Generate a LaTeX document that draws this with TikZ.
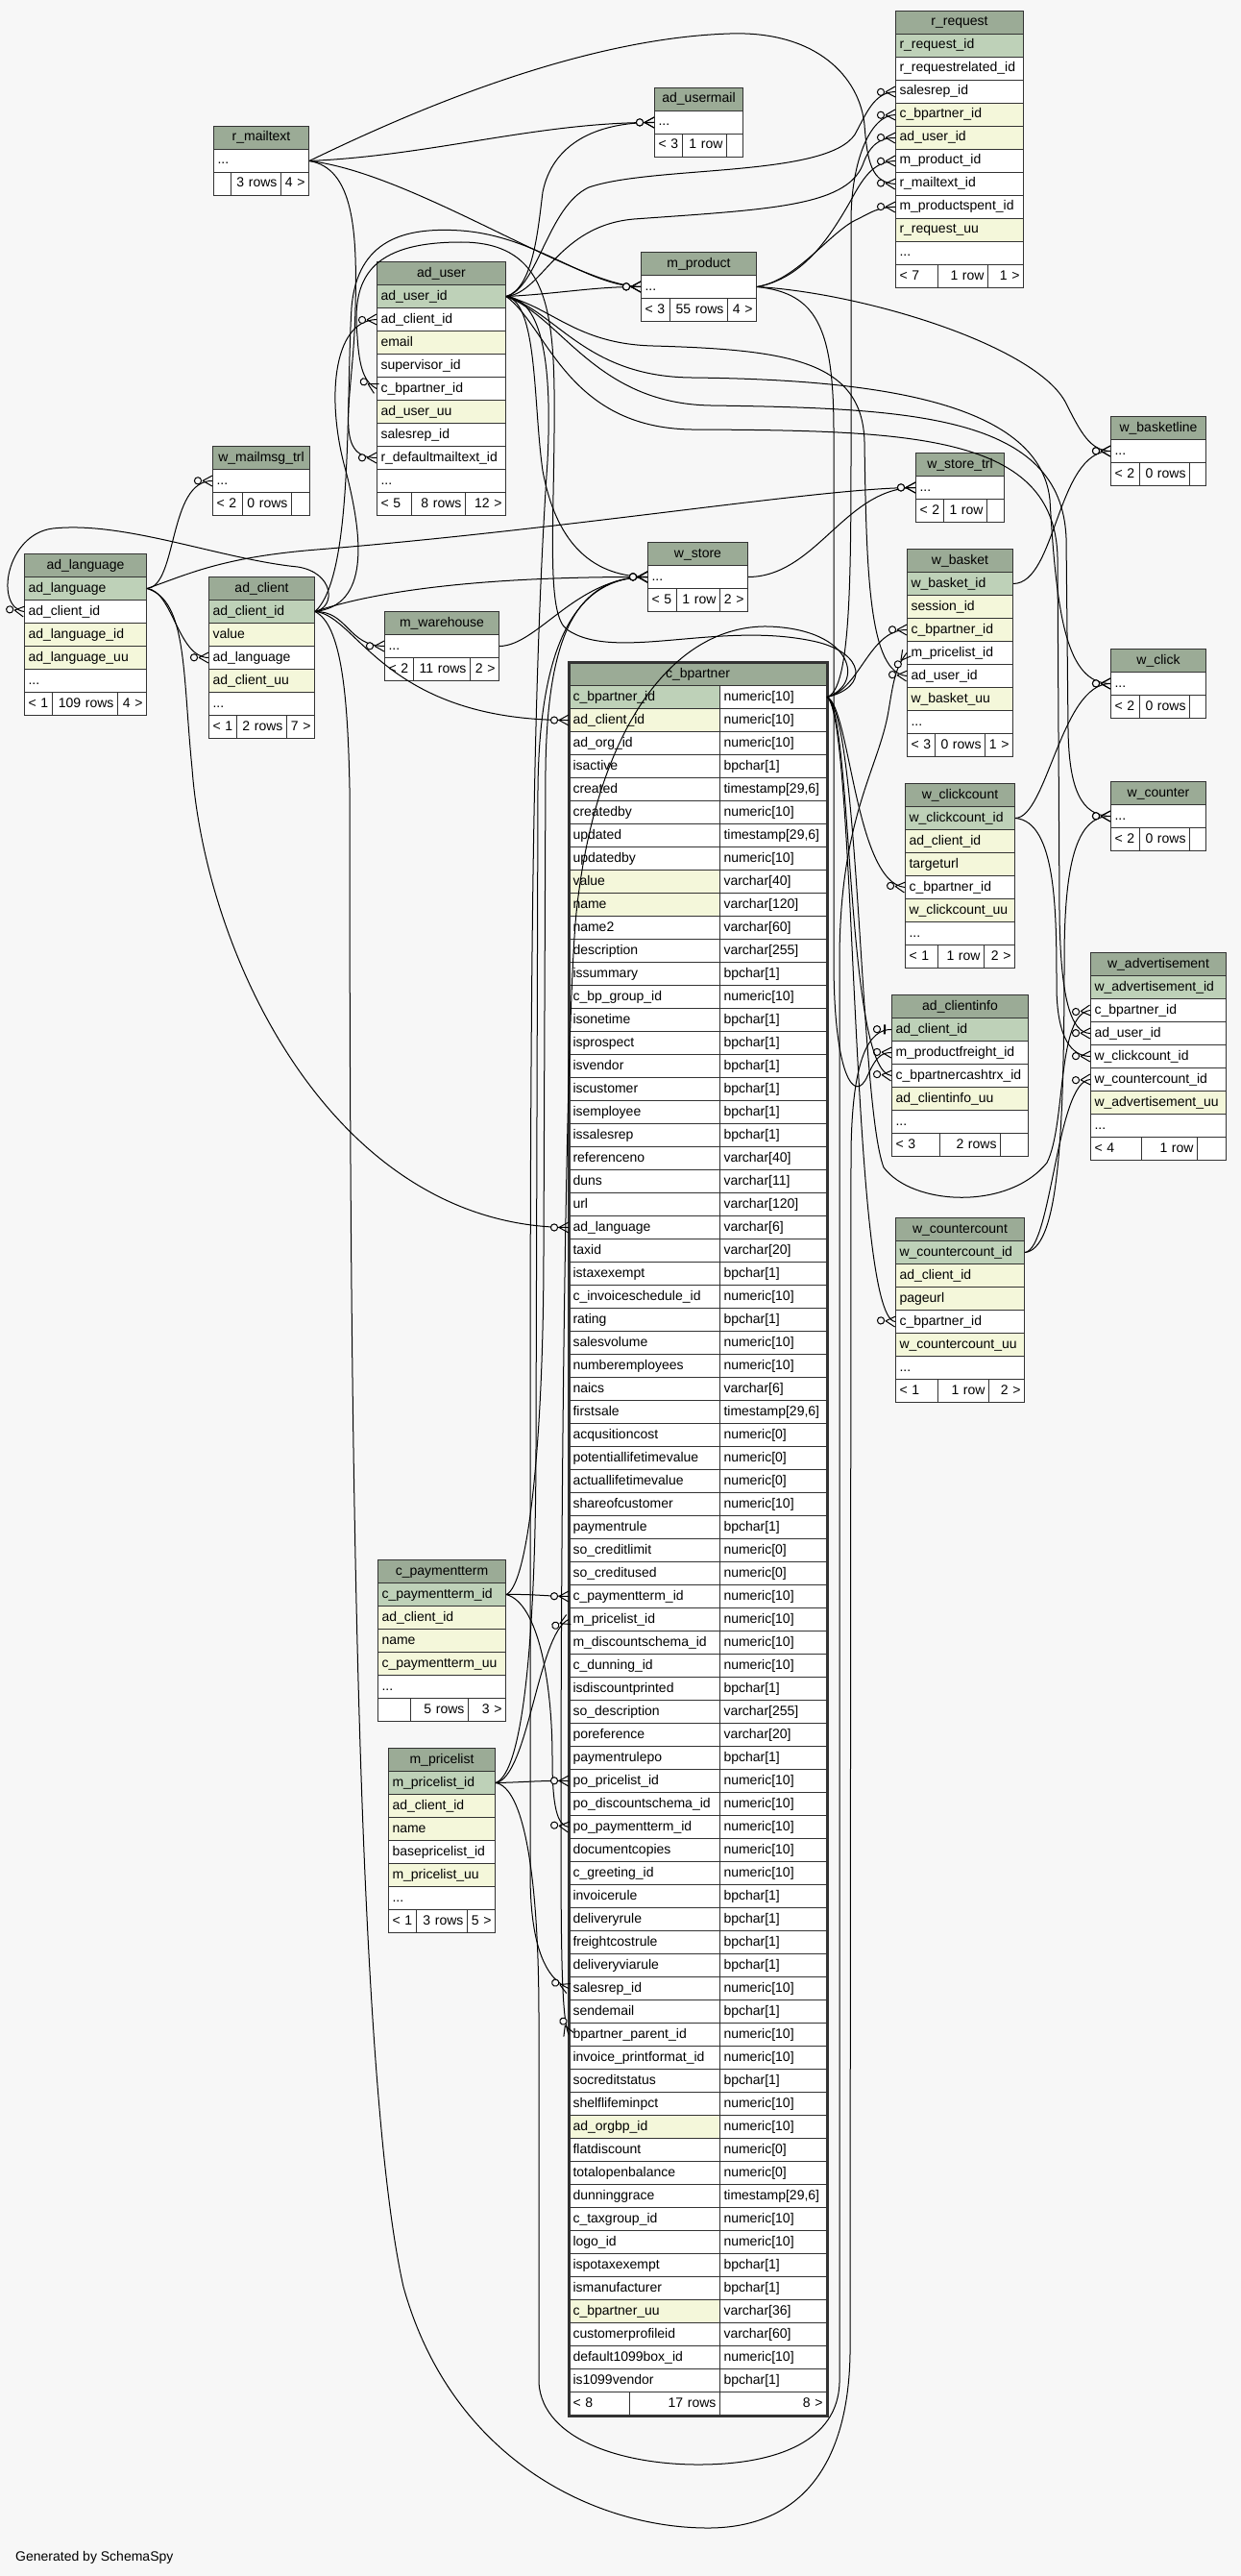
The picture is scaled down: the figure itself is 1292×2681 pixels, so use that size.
\documentclass[tikz,border=0pt]{standalone}
\usepackage{fontspec}
\setmainfont{Liberation Sans}

\definecolor{bgc}{HTML}{F7F7F7}
\definecolor{hdc}{HTML}{9BAB96}
\definecolor{pkc}{HTML}{BED1B8}
\definecolor{ixc}{HTML}{F4F7DA}
\definecolor{bordc}{HTML}{333333}

\hyphenpenalty=10000
\exhyphenpenalty=10000

\pgfdeclarearrow{
  name = crowodot,
  parameters = {\the\pgflinewidth},
  setup code = {
    \pgfarrowssettipend{0pt}
    \pgfarrowssetlineend{0pt}
    \pgfarrowssetbackend{-19pt}
    \pgfarrowshullpoint{0pt}{5.5pt}
    \pgfarrowshullpoint{0pt}{-5.5pt}
    \pgfarrowshullpoint{-19pt}{0pt}
  },
  drawing code = {
    \pgfpathmoveto{\pgfqpoint{-10pt}{0pt}}
    \pgfpathlineto{\pgfqpoint{0pt}{5.5pt}}
    \pgfpathmoveto{\pgfqpoint{-10pt}{0pt}}
    \pgfpathlineto{\pgfqpoint{0pt}{-5.5pt}}
    \pgfusepathqstroke
    \pgfpathcircle{\pgfqpoint{-15pt}{0pt}}{3.6pt}
    \pgfsetfillcolor{bgc}
    \pgfusepathqfillstroke
  }
}

\pgfdeclarearrow{
  name = teeodot,
  parameters = {\the\pgflinewidth},
  setup code = {
    \pgfarrowssettipend{0pt}
    \pgfarrowssetlineend{0pt}
    \pgfarrowssetbackend{-19pt}
    \pgfarrowshullpoint{0pt}{5.5pt}
    \pgfarrowshullpoint{0pt}{-5.5pt}
    \pgfarrowshullpoint{-19pt}{0pt}
  },
  drawing code = {
    \pgfsetlinewidth{2pt}
    \pgfpathmoveto{\pgfqpoint{-7pt}{5pt}}
    \pgfpathlineto{\pgfqpoint{-7pt}{-5pt}}
    \pgfusepathqstroke
    \pgfsetlinewidth{1pt}
    \pgfpathcircle{\pgfqpoint{-15pt}{0pt}}{3.6pt}
    \pgfsetfillcolor{bgc}
    \pgfusepathqfillstroke
  }
}

\begin{document}
\begin{tikzpicture}[x=1pt, y=-1pt, font=\fontsize{14}{16}\selectfont,
    cell/.style={draw=bordc, line width=1pt, fill=white, anchor=north west, inner xsep=4pt, inner ysep=0pt,
      minimum height=24pt, text height=10.5pt, text depth=3.5pt, align=left},
    head/.style={cell, fill=hdc, align=center},
    foot/.style={cell, align=right},
    fk/.style={line width=1pt, -crowodot},
    fkone/.style={line width=1pt, -teeodot}]

    \fill[bgc] (0,0) rectangle (1292,2681);
    \useasboundingbox (0,0) rectangle (1292,2681);

    \node[head, text width=125pt] (req) at (932,11) {r\_request};
    \foreach \fc/\tx [count=\idx] in {pkc/r\_request\_id, white/r\_requestrelated\_id, white/salesrep\_id,
        ixc/c\_bpartner\_id, ixc/ad\_user\_id, white/m\_product\_id, white/r\_mailtext\_id,
        white/m\_productspent\_id, ixc/r\_request\_uu}
      \node[cell, fill=\fc, text width=125pt] (req-\idx) at (932,11+24*\idx) {\tx};
    \node[cell, text width=125pt] (req-10) at (932,251) {...};
    \node[cell, text width=36pt] (req-f1) at (932,275) {< 7};
    \node[foot, text width=44pt] (req-f2) at (976,275) {1 row};
    \node[foot, text width=29pt] (req-f3) at (1028,275) {1 >};

    \node[head, text width=84pt] (umail) at (681,91) {ad\_usermail};
    \node[cell, text width=84pt] (umail-1) at (681,115) {...};
    \node[cell, text width=21pt] (umail-f1) at (681,139) {< 3};
    \node[foot, text width=38pt] (umail-f2) at (710,139) {1 row};
    \node[foot, text width=9pt] (umail-f3) at (756,139) {};

    \node[head, text width=91pt] (mtxt) at (222,131) {r\_mailtext};
    \node[cell, text width=91pt] (mtxt-1) at (222,155) {...};
    \node[cell, text width=10pt] (mtxt-f1) at (222,179) {};
    \node[foot, text width=44pt] (mtxt-f2) at (240,179) {3 rows};
    \node[foot, text width=21pt] (mtxt-f3) at (292,179) {4 >};

    \node[head, text width=112pt] (prod) at (667,262) {m\_product};
    \node[cell, text width=112pt] (prod-1) at (667,286) {...};
    \node[cell, text width=22pt] (prod-f1) at (667,310) {< 3};
    \node[foot, text width=52pt] (prod-f2) at (697,310) {55 rows};
    \node[foot, text width=22pt] (prod-f3) at (757,310) {4 >};

    \node[head, text width=126pt] (user) at (392,272) {ad\_user};
    \foreach \fc/\tx [count=\idx] in {pkc/ad\_user\_id, white/ad\_client\_id, ixc/email, white/supervisor\_id,
        white/c\_bpartner\_id, ixc/ad\_user\_uu, white/salesrep\_id, white/r\_defaultmailtext\_id}
      \node[cell, fill=\fc, text width=126pt] (user-\idx) at (392,272+24*\idx) {\tx};
    \node[cell, text width=126pt] (user-9) at (392,488) {...};
    \node[cell, text width=28pt] (user-f1) at (392,512) {< 5};
    \node[foot, text width=48pt] (user-f2) at (428,512) {8 rows};
    \node[foot, text width=34pt] (user-f3) at (484,512) {12 >};

    \node[head, text width=93pt] (mmsg) at (221,464) {w\_mailmsg\_trl};
    \node[cell, text width=93pt] (mmsg-1) at (221,488) {...};
    \node[cell, text width=23pt] (mmsg-f1) at (221,512) {< 2};
    \node[foot, text width=43pt] (mmsg-f2) at (252,512) {0 rows};
    \node[foot, text width=11pt] (mmsg-f3) at (303,512) {};

    \node[head, text width=119pt] (lang) at (25,576) {ad\_language};
    \foreach \fc/\tx [count=\idx] in {pkc/ad\_language, white/ad\_client\_id, ixc/ad\_language\_id, ixc/ad\_language\_uu}
      \node[cell, fill=\fc, text width=119pt] (lang-\idx) at (25,576+24*\idx) {\tx};
    \node[cell, text width=119pt] (lang-5) at (25,696) {...};
    \node[cell, text width=21pt] (lang-f1) at (25,720) {< 1};
    \node[foot, text width=60pt] (lang-f2) at (54,720) {109 rows};
    \node[foot, text width=22pt] (lang-f3) at (122,720) {4 >};

    \node[head, text width=102pt] (clnt) at (217,600) {ad\_client};
    \foreach \fc/\tx [count=\idx] in {pkc/ad\_client\_id, ixc/value, white/ad\_language, ixc/ad\_client\_uu}
      \node[cell, fill=\fc, text width=102pt] (clnt-\idx) at (217,600+24*\idx) {\tx};
    \node[cell, text width=102pt] (clnt-5) at (217,720) {...};
    \node[cell, text width=21pt] (clnt-f1) at (217,744) {< 1};
    \node[foot, text width=44pt] (clnt-f2) at (246,744) {2 rows};
    \node[foot, text width=21pt] (clnt-f3) at (298,744) {7 >};

    \node[head, text width=111pt] (whse) at (400,636) {m\_warehouse};
    \node[cell, text width=111pt] (whse-1) at (400,660) {...};
    \node[cell, text width=22pt] (whse-f1) at (400,684) {< 2};
    \node[foot, text width=51pt] (whse-f2) at (430,684) {11 rows};
    \node[foot, text width=22pt] (whse-f3) at (489,684) {2 >};

    \node[head, text width=96pt] (store) at (674,564) {w\_store};
    \node[cell, text width=96pt] (store-1) at (674,588) {...};
    \node[cell, text width=22pt] (store-f1) at (674,612) {< 5};
    \node[foot, text width=37pt] (store-f2) at (704,612) {1 row};
    \node[foot, text width=21pt] (store-f3) at (749,612) {2 >};

    \node[head, text width=84pt] (strl) at (953,471) {w\_store\_trl};
    \node[cell, text width=84pt] (strl-1) at (953,495) {...};
    \node[cell, text width=21pt] (strl-f1) at (953,519) {< 2};
    \node[foot, text width=37pt] (strl-f2) at (982,519) {1 row};
    \node[foot, text width=10pt] (strl-f3) at (1027,519) {};

    \node[head, text width=91pt] (bline) at (1156,433) {w\_basketline};
    \node[cell, text width=91pt] (bline-1) at (1156,457) {...};
    \node[cell, text width=22pt] (bline-f1) at (1156,481) {< 2};
    \node[foot, text width=44pt] (bline-f2) at (1186,481) {0 rows};
    \node[foot, text width=9pt] (bline-f3) at (1238,481) {};

    \node[head, text width=102pt] (bskt) at (944,571) {w\_basket};
    \foreach \fc/\tx [count=\idx] in {pkc/w\_basket\_id, ixc/session\_id, ixc/c\_bpartner\_id, white/m\_pricelist\_id,
        white/ad\_user\_id, ixc/w\_basket\_uu}
      \node[cell, fill=\fc, text width=102pt] (bskt-\idx) at (944,571+24*\idx) {\tx};
    \node[cell, text width=102pt] (bskt-7) at (944,739) {...};
    \node[cell, text width=21pt] (bskt-f1) at (944,763) {< 3};
    \node[foot, text width=44pt] (bskt-f2) at (973,763) {0 rows};
    \node[foot, text width=21pt] (bskt-f3) at (1025,763) {1 >};

    \node[head, text width=91pt] (click) at (1156,675) {w\_click};
    \node[cell, text width=91pt] (click-1) at (1156,699) {...};
    \node[cell, text width=22pt] (click-f1) at (1156,723) {< 2};
    \node[foot, text width=44pt] (click-f2) at (1186,723) {0 rows};
    \node[foot, text width=9pt] (click-f3) at (1238,723) {};

    \node[head, text width=106pt] (ccnt) at (942,815) {w\_clickcount};
    \foreach \fc/\tx [count=\idx] in {pkc/w\_clickcount\_id, ixc/ad\_client\_id, ixc/targeturl, white/c\_bpartner\_id,
        ixc/w\_clickcount\_uu}
      \node[cell, fill=\fc, text width=106pt] (ccnt-\idx) at (942,815+24*\idx) {\tx};
    \node[cell, text width=106pt] (ccnt-6) at (942,959) {...};
    \node[cell, text width=26pt] (ccnt-f1) at (942,983) {< 1};
    \node[foot, text width=40pt] (ccnt-f2) at (976,983) {1 row};
    \node[foot, text width=24pt] (ccnt-f3) at (1024,983) {2 >};

    \node[head, text width=91pt] (cntr) at (1156,813) {w\_counter};
    \node[cell, text width=91pt] (cntr-1) at (1156,837) {...};
    \node[cell, text width=22pt] (cntr-f1) at (1156,861) {< 2};
    \node[foot, text width=44pt] (cntr-f2) at (1186,861) {0 rows};
    \node[foot, text width=9pt] (cntr-f3) at (1238,861) {};

    \node[head, text width=133pt] (adv) at (1135,991) {w\_advertisement};
    \foreach \fc/\tx [count=\idx] in {pkc/w\_advertisement\_id, white/c\_bpartner\_id, white/ad\_user\_id,
        white/w\_clickcount\_id, white/w\_countercount\_id, ixc/w\_advertisement\_uu}
      \node[cell, fill=\fc, text width=133pt] (adv-\idx) at (1135,991+24*\idx) {\tx};
    \node[cell, text width=133pt] (adv-7) at (1135,1159) {...};
    \node[cell, text width=45pt] (adv-f1) at (1135,1183) {< 4};
    \node[foot, text width=50pt] (adv-f2) at (1188,1183) {1 row};
    \node[foot, text width=22pt] (adv-f3) at (1246,1183) {};

    \node[head, text width=134pt] (cinfo) at (928,1035) {ad\_clientinfo};
    \foreach \fc/\tx [count=\idx] in {pkc/ad\_client\_id, white/m\_productfreight\_id, white/c\_bpartnercashtrx\_id,
        ixc/ad\_clientinfo\_uu}
      \node[cell, fill=\fc, text width=134pt] (cinfo-\idx) at (928,1035+24*\idx) {\tx};
    \node[cell, text width=134pt] (cinfo-5) at (928,1155) {...};
    \node[cell, text width=42pt] (cinfo-f1) at (928,1179) {< 3};
    \node[foot, text width=55pt] (cinfo-f2) at (978,1179) {2 rows};
    \node[foot, text width=21pt] (cinfo-f3) at (1041,1179) {};

    \node[head, text width=126pt] (kcnt) at (932,1267) {w\_countercount};
    \foreach \fc/\tx [count=\idx] in {pkc/w\_countercount\_id, ixc/ad\_client\_id, ixc/pageurl, white/c\_bpartner\_id,
        ixc/w\_countercount\_uu}
      \node[cell, fill=\fc, text width=126pt] (kcnt-\idx) at (932,1267+24*\idx) {\tx};
    \node[cell, text width=126pt] (kcnt-6) at (932,1411) {...};
    \node[cell, text width=36pt] (kcnt-f1) at (932,1435) {< 1};
    \node[foot, text width=45pt] (kcnt-f2) at (976,1435) {1 row};
    \node[foot, text width=29pt] (kcnt-f3) at (1029,1435) {2 >};

    \node[head, text width=125pt] (pterm) at (393,1623) {c\_paymentterm};
    \foreach \fc/\tx [count=\idx] in {pkc/c\_paymentterm\_id, ixc/ad\_client\_id, ixc/name, ixc/c\_paymentterm\_uu}
      \node[cell, fill=\fc, text width=125pt] (pterm-\idx) at (393,1623+24*\idx) {\tx};
    \node[cell, text width=125pt] (pterm-5) at (393,1743) {...};
    \node[cell, text width=26pt] (pterm-f1) at (393,1767) {};
    \node[foot, text width=52pt] (pterm-f2) at (427,1767) {5 rows};
    \node[foot, text width=31pt] (pterm-f3) at (487,1767) {3 >};

    \node[head, text width=103pt] (plist) at (404,1819) {m\_pricelist};
    \foreach \fc/\tx [count=\idx] in {pkc/m\_pricelist\_id, ixc/ad\_client\_id, ixc/name, white/basepricelist\_id,
        ixc/m\_pricelist\_uu}
      \node[cell, fill=\fc, text width=103pt] (plist-\idx) at (404,1819+24*\idx) {\tx};
    \node[cell, text width=103pt] (plist-6) at (404,1963) {...};
    \node[cell, text width=21pt] (plist-f1) at (404,1987) {< 1};
    \node[foot, text width=45pt] (plist-f2) at (433,1987) {3 rows};
    \node[foot, text width=21pt] (plist-f3) at (486,1987) {5 >};

    \node[head, text width=260pt] (bp) at (592,689) {c\_bpartner};
    \foreach \fc/\tx/\ty [count=\idx] in {pkc/c\_bpartner\_id/numeric[10], ixc/ad\_client\_id/numeric[10],
        white/ad\_org\_id/numeric[10], white/isactive/bpchar[1], white/created/{timestamp[29,6]},
        white/createdby/numeric[10], white/updated/{timestamp[29,6]}, white/updatedby/numeric[10],
        ixc/value/varchar[40], ixc/name/varchar[120], white/name2/varchar[60], white/description/varchar[255],
        white/issummary/bpchar[1], white/c\_bp\_group\_id/numeric[10], white/isonetime/bpchar[1],
        white/isprospect/bpchar[1], white/isvendor/bpchar[1], white/iscustomer/bpchar[1],
        white/isemployee/bpchar[1], white/issalesrep/bpchar[1], white/referenceno/varchar[40],
        white/duns/varchar[11], white/url/varchar[120], white/ad\_language/varchar[6], white/taxid/varchar[20],
        white/istaxexempt/bpchar[1], white/c\_invoiceschedule\_id/numeric[10], white/rating/bpchar[1],
        white/salesvolume/numeric[10], white/numberemployees/numeric[10], white/naics/varchar[6],
        white/firstsale/{timestamp[29,6]}, white/acqusitioncost/numeric[0],
        white/potentiallifetimevalue/numeric[0], white/actuallifetimevalue/numeric[0],
        white/shareofcustomer/numeric[10], white/paymentrule/bpchar[1], white/so\_creditlimit/numeric[0],
        white/so\_creditused/numeric[0], white/c\_paymentterm\_id/numeric[10], white/m\_pricelist\_id/numeric[10],
        white/m\_discountschema\_id/numeric[10], white/c\_dunning\_id/numeric[10],
        white/isdiscountprinted/bpchar[1], white/so\_description/varchar[255], white/poreference/varchar[20],
        white/paymentrulepo/bpchar[1], white/po\_pricelist\_id/numeric[10],
        white/po\_discountschema\_id/numeric[10], white/po\_paymentterm\_id/numeric[10],
        white/documentcopies/numeric[10], white/c\_greeting\_id/numeric[10], white/invoicerule/bpchar[1],
        white/deliveryrule/bpchar[1], white/freightcostrule/bpchar[1], white/deliveryviarule/bpchar[1],
        white/salesrep\_id/numeric[10], white/sendemail/bpchar[1], white/bpartner\_parent\_id/numeric[10],
        white/invoice\_printformat\_id/numeric[10], white/socreditstatus/bpchar[1],
        white/shelflifeminpct/numeric[10], ixc/ad\_orgbp\_id/numeric[10], white/flatdiscount/numeric[0],
        white/totalopenbalance/numeric[0], white/dunninggrace/{timestamp[29,6]},
        white/c\_taxgroup\_id/numeric[10], white/logo\_id/numeric[10], white/ispotaxexempt/bpchar[1],
        white/ismanufacturer/bpchar[1], ixc/c\_bpartner\_uu/varchar[36], white/customerprofileid/varchar[60],
        white/default1099box\_id/numeric[10], white/is1099vendor/bpchar[1]}{
      \node[cell, fill=\fc, text width=149pt] (bp-\idx) at (592,689+24*\idx) {\tx};
      \node[cell, text width=103pt] (bpt-\idx) at (749,689+24*\idx) {\ty};
    }
    \node[cell, text width=55pt] (bp-f1) at (592,2489) {< 8};
    \node[foot, text width=86pt] (bp-f2) at (655,2489) {17 rows};
    \node[foot, text width=103pt] (bp-f3) at (749,2489) {8 >};
    \draw[bordc, line width=3pt] (bp.north west) rectangle (bp-f3.south east);

    \node[anchor=west, inner sep=0pt] (gen) at (16,2662) {Generated by SchemaSpy};

    \draw[fk] (clnt-1.east) .. controls (350,632) and (348,596) .. (310,590) .. controls (230,582) and (130,542) .. (55,550) .. controls (6,556) and (-6,632) .. (lang-2.west);
    \draw[fk] (clnt-1.east) .. controls (385,630) and (378,560) .. (360,490) .. controls (340,420) and (345,334) .. (user-2.west);
    \draw[fk] (clnt-1.east) .. controls (362,636) and (362,672) .. (whse-1.west);
    \draw[fk] (clnt-1.east) .. controls (400,612) and (520,600) .. (store-1.west);
    \draw[fk] (clnt-1.east) .. controls (372,640) and (400,750) .. (bp-2.west);
    \draw[fk] (clnt-1.east) .. controls (368,600) and (360,420) .. (366,320) .. controls (372,250) and (420,236) .. (480,240) .. controls (560,246) and (610,298) .. (prod-1.west);
    \draw[fkone] (clnt-1.east) .. controls (355,650) and (362,720) .. (364,820) .. controls (364,1400) and (368,2150) .. (420,2380) .. controls (470,2560) and (620,2631) .. (737,2631) .. controls (830,2631) and (883,2570) .. (885,2450) -- (886,1200) .. controls (887,1100) and (905,1071) .. (cinfo-1.west);

    \draw[fk] (lang-1.east) .. controls (180,615) and (185,684) .. (clnt-3.west);
    \draw[fk] (lang-1.east) .. controls (185,610) and (175,500) .. (mmsg-1.west);
    \draw[fk] (lang-1.east) .. controls (195,598) and (230,580) .. (330,572) .. controls (600,550) and (860,507) .. (strl-1.west);
    \draw[fk] (lang-1.east) .. controls (195,625) and (190,700) .. (200,800) .. controls (215,1000) and (350,1277) .. (bp-24.west);

    \draw[fk] (mtxt-1.east) .. controls (420,120) and (600,40) .. (760,35) .. controls (850,32) and (895,80) .. (900,130) .. controls (903,170) and (908,190) .. (req-7.west);
    \draw[fk] (mtxt-1.east) .. controls (450,162) and (560,127) .. (umail-1.west);
    \draw[fk] (mtxt-1.east) .. controls (430,180) and (600,298) .. (prod-1.west);
    \draw[fk] (mtxt-1.east) .. controls (368,175) and (372,240) .. (370,320) .. controls (368,420) and (345,476) .. (user-8.west);

    \draw[fk] (user-1.east) .. controls (555,300) and (560,240) .. (565,200) .. controls (575,150) and (620,127) .. (umail-1.west);
    \draw[fk] (user-1.east) .. controls (580,306) and (620,298) .. (prod-1.west);
    \draw[fk] (user-1.east) .. controls (560,300) and (570,215) .. (613,195) .. controls (680,172) and (860,185) .. (890,140) .. controls (902,118) and (910,96) .. (req-3.west);
    \draw[fk] (user-1.east) .. controls (565,305) and (580,235) .. (660,228) .. controls (800,218) and (880,215) .. (898,172) .. controls (905,152) and (915,143) .. (req-5.west);
    \draw[fk] (user-1.east) .. controls (560,315) and (555,420) .. (565,490) .. controls (580,570) and (620,600) .. (store-1.west);
    \draw[fk] (user-1.east) .. controls (575,320) and (600,358) .. (680,360) .. controls (820,364) and (898,375) .. (900,460) .. controls (902,600) and (905,700) .. (bskt-5.west);
    \draw[fk] (user-1.east) .. controls (580,325) and (610,392) .. (720,393) .. controls (900,395) and (1082,415) .. (1093,520) .. controls (1100,640) and (1110,711) .. (click-1.west);
    \draw[fk] (user-1.east) .. controls (585,330) and (620,420) .. (740,422) .. controls (950,425) and (1105,432) .. (1110,560) -- (1112,760) .. controls (1113,820) and (1125,849) .. (cntr-1.west);
    \draw[fk] (user-1.east) .. controls (570,340) and (590,445) .. (720,447) .. controls (950,448) and (1098,452) .. (1101,580) -- (1103,950) .. controls (1104,1040) and (1115,1075) .. (adv-3.west);
    \draw[fk] (user-1.east) .. controls (565,312) and (575,380) .. (570,480) .. controls (555,700) and (552,1000) .. (552,1500) -- (552,1950) .. controls (552,2030) and (570,2060) .. (bp-57.west);

    \draw[fk] (prod-1.east) .. controls (835,290) and (862,250) .. (885,210) .. controls (897,188) and (908,168) .. (req-6.west);
    \draw[fk] (prod-1.east) .. controls (830,292) and (865,240) .. (893,228) .. controls (905,222) and (915,215) .. (req-8.west);
    \draw[fk] (prod-1.east) .. controls (900,305) and (1080,360) .. (1110,420) .. controls (1125,450) and (1135,469) .. (bline-1.west);
    \draw[fk] (prod-1.east) .. controls (850,305) and (868,340) .. (868,450) -- (868,1000) .. controls (868,1120) and (890,1150) .. (903,1120) .. controls (910,1105) and (915,1095) .. (cinfo-2.west);

    \draw[fk] (bpt-1.east) .. controls (886,718) and (886,600) .. (886,450) -- (886,230) .. controls (886,170) and (905,120) .. (req-4.west);
    \draw[fk] (bpt-1.east) .. controls (895,718) and (905,655) .. (bskt-3.west);
    \draw[fk] (bpt-1.east) .. controls (885,735) and (890,918) .. (ccnt-4.west);
    \draw[fk] (bpt-1.east) .. controls (888,740) and (880,1115) .. (cinfo-3.west);
    \draw[fk] (bpt-1.east) .. controls (892,745) and (885,1372) .. (kcnt-4.west);
    \draw[fk] (bpt-1.east) .. controls (895,745) and (895,1150) .. (920,1215) .. controls (950,1255) and (1050,1260) .. (1090,1210) .. controls (1110,1170) and (1100,1055) .. (adv-2.west);
    \draw[fk] (bpt-1.east) .. controls (905,715) and (900,680) .. (850,668) .. controls (750,645) and (640,690) .. (590,655) .. controls (570,640) and (576,560) .. (577,450) .. controls (578,330) and (575,252) .. (480,252) .. controls (385,252) and (366,290) .. (372,350) .. controls (374,385) and (380,398) .. (user-5.west);
    \draw[fk] (bpt-1.east) .. controls (900,712) and (890,655) .. (800,652) .. controls (700,650) and (620,760) .. (600,950) .. controls (590,1050) and (584,1500) .. (584,1900) .. controls (584,2040) and (585,2100) .. (bp-59.west);

    \draw[fk] (pterm-1.east) .. controls (555,1659) and (565,1661) .. (bp-40.west);
    \draw[fk] (pterm-1.east) .. controls (560,1668) and (575,1750) .. (575,1830) .. controls (575,1880) and (580,1900) .. (bp-50.west);
    \draw[fk] (pterm-1.east) .. controls (550,1650) and (566,1500) .. (566,1300) -- (568,800) .. controls (570,660) and (600,600) .. (store-1.west);
    \draw[fk] (plist-1.east) .. controls (550,1850) and (560,1700) .. (bp-41.west);
    \draw[fk] (plist-1.east) .. controls (545,1855) and (560,1853) .. (bp-48.west);
    \draw[fk] (plist-1.east) .. controls (545,1845) and (558,1700) .. (558,1500) -- (560,820) .. controls (562,650) and (610,600) .. (store-1.west);
    \draw[fk] (plist-1.east) .. controls (545,1860) and (561,1950) .. (561,2100) -- (561,2480) .. controls (565,2540) and (650,2565) .. (727,2565) .. controls (810,2565) and (872,2540) .. (874,2480) -- (874,1000) .. controls (874,850) and (915,800) .. (925,740) .. controls (930,710) and (932,695) .. (bskt-4.west);

    \draw[fk] (whse-1.east) .. controls (560,672) and (600,600) .. (store-1.west);
    \draw[fk] (store-1.east) .. controls (850,600) and (880,507) .. (strl-1.west);
    \draw[fk] (bskt-1.east) .. controls (1100,607) and (1100,469) .. (bline-1.west);
    \draw[fk] (ccnt-1.east) .. controls (1090,851) and (1105,711) .. (click-1.west);
    \draw[fk] (ccnt-1.east) .. controls (1100,855) and (1100,950) .. (1100,1030) .. controls (1101,1080) and (1115,1099) .. (adv-4.west);
    \draw[fk] (kcnt-1.east) .. controls (1100,1300) and (1108,1200) .. (1108,1000) .. controls (1108,900) and (1120,849) .. (cntr-1.west);
    \draw[fk] (kcnt-1.east) .. controls (1095,1300) and (1100,1125) .. (adv-5.west);
\end{tikzpicture}
\end{document}
